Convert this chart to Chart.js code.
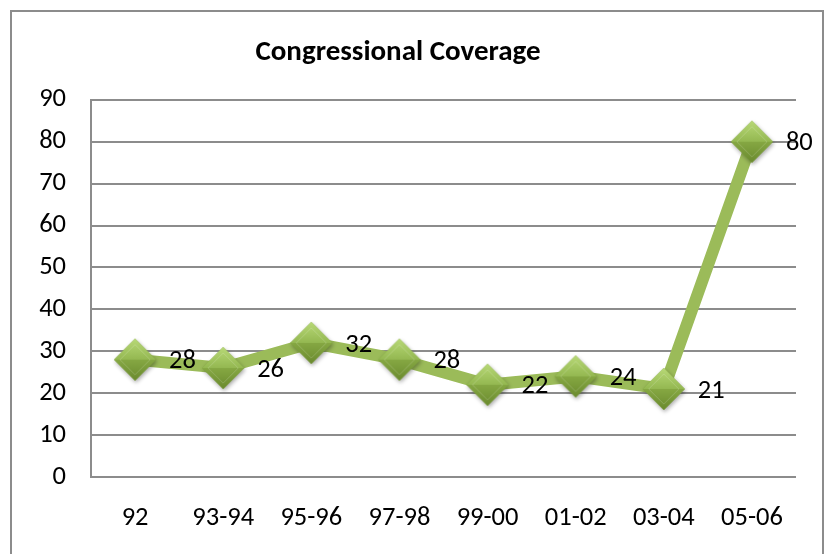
<!DOCTYPE html>
<html>
<head>
<meta charset="utf-8">
<script src="https://cdn.jsdelivr.net/npm/chart.js@4"></script>
<style>
  html, body { margin: 0; padding: 0; background: #ffffff; }
  #wrap { position: relative; width: 830px; height: 554px; }
  canvas { position: absolute; left: 0; top: 0; }
</style>
</head>
<body>
<div id="wrap"><canvas id="c" width="830" height="554"></canvas></div>
<script>
// Congressional coverage by session
const categories = ['92', '93-94', '95-96', '97-98', '99-00', '01-02', '03-04', '05-06'];
const coverage = [28, 26, 32, 28, 22, 24, 21, 80];
const yTicks = [0, 10, 20, 30, 40, 50, 60, 70, 80, 90];

const FONT = "Carlito, Lato, 'Open Sans', sans-serif";

// Beveled green diamond marker
function makeDiamond(size) {
  const pad = 6;
  const c = document.createElement('canvas');
  c.width = size + pad * 2;
  c.height = size + pad * 2;
  const g = c.getContext('2d');
  const cx = c.width / 2, cy = c.height / 2, r = size / 2;
  g.save();
  g.shadowColor = 'rgba(0,0,0,0.35)';
  g.shadowBlur = 4;
  g.shadowOffsetX = 1;
  g.shadowOffsetY = 2;
  g.beginPath();
  g.moveTo(cx, cy - r); g.lineTo(cx + r, cy); g.lineTo(cx, cy + r); g.lineTo(cx - r, cy);
  g.closePath();
  g.fillStyle = '#7d9f3b';
  g.fill();
  g.restore();
  // upper half
  let gr = g.createLinearGradient(0, cy - r, 0, cy);
  gr.addColorStop(0, '#b8d977');
  gr.addColorStop(1, '#94b851');
  g.beginPath();
  g.moveTo(cx, cy - r); g.lineTo(cx + r, cy); g.lineTo(cx - r, cy); g.closePath();
  g.fillStyle = gr; g.fill();
  // lower half
  gr = g.createLinearGradient(0, cy, 0, cy + r);
  gr.addColorStop(0, '#86a843');
  gr.addColorStop(1, '#6a8a2e');
  g.beginPath();
  g.moveTo(cx - r, cy); g.lineTo(cx + r, cy); g.lineTo(cx, cy + r); g.closePath();
  g.fillStyle = gr; g.fill();
  // inner facet highlight
  g.beginPath();
  const k = 0.72;
  g.moveTo(cx, cy - r * k); g.lineTo(cx + r * k, cy); g.lineTo(cx, cy + r * k); g.lineTo(cx - r * k, cy);
  g.closePath();
  g.strokeStyle = 'rgba(255,255,255,0.18)';
  g.lineWidth = 1;
  g.stroke();
  return c;
}
const marker = makeDiamond(42);

// Outer chart frame
const framePlugin = {
  id: 'frame',
  beforeDraw(chart) {
    const ctx = chart.ctx;
    ctx.save();
    ctx.strokeStyle = '#8c8c8c';
    ctx.lineWidth = 2;
    ctx.strokeRect(11, 11, 812, 560);
    ctx.restore();
  }
};

// Value labels to the right of each marker
const valueLabels = {
  id: 'valueLabels',
  afterDatasetsDraw(chart) {
    const ctx = chart.ctx;
    const meta = chart.getDatasetMeta(0);
    const data = chart.data.datasets[0].data;
    ctx.save();
    ctx.font = '26.5px ' + FONT;
    ctx.fillStyle = '#000000';
    ctx.textAlign = 'left';
    ctx.textBaseline = 'middle';
    meta.data.forEach((pt, i) => {
      ctx.fillText(String(data[i]), pt.x + 34, pt.y + 2);
    });
    ctx.restore();
  }
};

new Chart(document.getElementById('c'), {
  type: 'line',
  data: {
    labels: categories,
    datasets: [{
      data: coverage,
      borderColor: '#9bbb59',
      borderWidth: 12,
      tension: 0,
      pointStyle: marker,
      pointRadius: 21,
      pointHoverRadius: 21
    }]
  },
  options: {
    responsive: false,
    animation: false,
    events: [],
    layout: { padding: { left: 0, right: 34, top: 0, bottom: 20 } },
    plugins: {
      legend: { display: false },
      tooltip: { enabled: false },
      title: {
        display: true,
        text: 'Congressional Coverage',
        color: '#000000',
        font: { family: FONT, size: 29, weight: 'bold' },
        padding: { top: 35, bottom: 30 }
      }
    },
    scales: {
      x: {
        offset: true,
        afterFit(scale) { scale.height = 57; },
        grid: { display: false, drawTicks: false },
        border: { display: false },
        ticks: { color: '#000000', font: { family: FONT, size: 26.5 }, padding: 25, maxRotation: 0 }
      },
      y: {
        min: 0,
        max: 90,
        afterFit(scale) { scale.width = 91; },
        afterBuildTicks(scale) { scale.ticks = yTicks.map(v => ({ value: v })); },
        grid: { color: '#8c8c8c', lineWidth: 2, drawTicks: false },
        border: { display: true, color: '#8c8c8c', width: 2 },
        ticks: { color: '#000000', font: { family: FONT, size: 26.5 }, padding: 25 }
      }
    }
  },
  plugins: [framePlugin, valueLabels]
});
</script>
</body>
</html>
